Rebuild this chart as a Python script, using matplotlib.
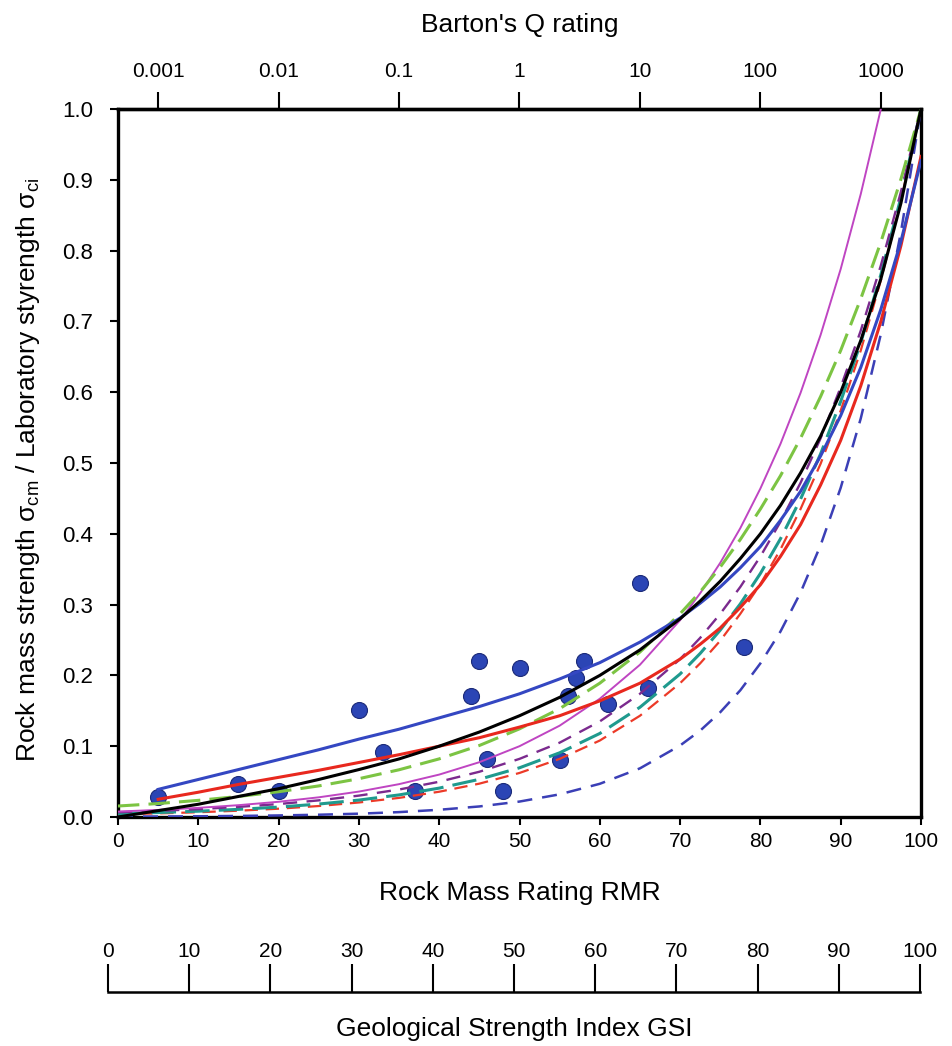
import numpy as np
import matplotlib.pyplot as plt

plt.rcParams['font.family'] = ['Liberation Sans', 'DejaVu Sans']
plt.rcParams['mathtext.fontset'] = 'custom'
plt.rcParams['mathtext.rm'] = 'Liberation Sans'

rmr = [0, 5, 10, 15, 20, 25, 30, 35, 40, 45, 50, 55, 60, 65, 70,
       72.5, 75, 77.5, 80, 82.5, 85, 87.5, 90, 92.5, 95, 97.5, 100]
rmr_q = rmr[:25]      # magenta curve stops at 1.0 near RMR 95
rmr_gsi = rmr[1:]     # GSI based curves start at 5

black = [0, 0.009, 0.018, 0.029, 0.040, 0.053, 0.067, 0.082, 0.100, 0.120, 0.143, 0.169, 0.200, 0.236,
         0.280, 0.305, 0.333, 0.365, 0.400, 0.440, 0.486, 0.538, 0.600, 0.673, 0.760, 0.867, 1.000]
green = [0.0155, 0.019, 0.0235, 0.029, 0.0357, 0.0439, 0.0541, 0.0667, 0.0821, 0.101, 0.1245, 0.153, 0.189,
         0.233, 0.287, 0.318, 0.353, 0.392, 0.435, 0.482, 0.535, 0.594, 0.659, 0.732, 0.812, 0.901, 1.0]
purple = [0.0067, 0.0087, 0.0111, 0.0143, 0.0183, 0.0235, 0.0302, 0.0388, 0.0498, 0.0639, 0.0821, 0.105, 0.135,
          0.174, 0.223, 0.253, 0.287, 0.325, 0.368, 0.417, 0.472, 0.535, 0.607, 0.687, 0.779, 0.883, 1.0]
teal = [0.0048, 0.0063, 0.0082, 0.0108, 0.014, 0.0183, 0.0239, 0.0312, 0.0408, 0.0532, 0.0695, 0.0907, 0.118,
        0.155, 0.202, 0.231, 0.264, 0.301, 0.344, 0.393, 0.449, 0.513, 0.587, 0.670, 0.766, 0.875, 1.0]
red_dash = [0.0039, 0.0051, 0.0067, 0.0089, 0.0117, 0.0155, 0.0205, 0.027, 0.0357, 0.0471, 0.0622, 0.0821, 0.108,
            0.143, 0.189, 0.217, 0.249, 0.287, 0.329, 0.378, 0.435, 0.499, 0.574, 0.659, 0.758, 0.870, 1.0]
navy = [0.0005, 0.0007, 0.001, 0.0015, 0.0022, 0.0032, 0.0047, 0.0069, 0.0102, 0.0149, 0.0218, 0.032, 0.0469,
        0.0687, 0.101, 0.122, 0.148, 0.179, 0.217, 0.262, 0.317, 0.384, 0.465, 0.563, 0.682, 0.826, 1.0]
magenta = [0.0077, 0.010, 0.0129, 0.0167, 0.0215, 0.0278, 0.0359, 0.0464, 0.0599, 0.0774, 0.100, 0.129, 0.167,
           0.215, 0.278, 0.316, 0.359, 0.408, 0.464, 0.527, 0.599, 0.681, 0.774, 0.880, 1.0]
blue = [0.039, 0.053, 0.067, 0.081, 0.095, 0.110, 0.124, 0.140, 0.156, 0.174, 0.195, 0.218, 0.247,
        0.281, 0.302, 0.325, 0.352, 0.382, 0.419, 0.460, 0.510, 0.567, 0.635, 0.717, 0.813, 0.927]
red = [0.025, 0.035, 0.046, 0.056, 0.066, 0.077, 0.088, 0.100, 0.112, 0.127, 0.143, 0.164, 0.189,
       0.223, 0.244, 0.267, 0.296, 0.328, 0.368, 0.413, 0.469, 0.532, 0.609, 0.700, 0.807, 0.933]

# measured points
rmr_obs = [5, 15, 20, 30, 33, 37, 44, 45, 46, 48, 50, 55, 56, 57, 58, 61, 65, 66, 78]
ratio_obs = [0.028, 0.047, 0.037, 0.151, 0.092, 0.037, 0.171, 0.22, 0.082, 0.037, 0.21, 0.08,
             0.171, 0.196, 0.22, 0.16, 0.33, 0.182, 0.24]

q_ticks = [0.001, 0.01, 0.1, 1, 10, 100, 1000]
q_labels = ['0.001', '0.01', '0.1', '1', '10', '100', '1000']
rmr_ticks = list(range(0, 101, 10))
y_ticks = [0.0, 0.1, 0.2, 0.3, 0.4, 0.5, 0.6, 0.7, 0.8, 0.9, 1.0]

fig = plt.figure(figsize=(9.52, 10.46), dpi=100)
ax = fig.add_axes([118 / 952, 1 - 817 / 1046, 803 / 952, 708 / 1046])

ax.plot(rmr_obs, ratio_obs, 'o', ms=11.5, color='#2b45b5', mec='#1b2a78', mew=0.8, zorder=2)

ax.plot(rmr, navy, color='#3b3fb6', lw=1.8, dashes=(6, 4), zorder=3)
ax.plot(rmr, red_dash, color='#ec3a28', lw=1.6, dashes=(6, 3.5), zorder=3)
ax.plot(rmr, teal, color='#1f9a8e', lw=2.2, dashes=(8, 3), zorder=3)
ax.plot(rmr, purple, color='#7b2a8e', lw=1.7, dashes=(6, 4), zorder=3)
ax.plot(rmr_q, magenta, color='#bf45c2', lw=1.4, zorder=3)
ax.plot(rmr, green, color='#7cc443', lw=2.2, dashes=(7, 3), zorder=3)
ax.plot(rmr_gsi, red, color='#e8281e', lw=2.2, zorder=4)
ax.plot(rmr_gsi, blue, color='#3447c2', lw=2.2, zorder=4)
ax.plot(rmr, black, color='black', lw=2.2, zorder=4)

ax.set_xlim(0, 100)
ax.set_ylim(0, 1)
ax.set_xticks(rmr_ticks)
ax.set_yticks(y_ticks)
ax.set_yticklabels(['%.1f' % v for v in y_ticks])
ax.tick_params(axis='both', direction='out', length=6, width=1.5, labelsize=15)
ax.tick_params(axis='x', pad=5)
ax.tick_params(axis='y', pad=12, labelsize=16)
for sp in ax.spines.values():
    sp.set_linewidth(2.4)

ax.set_xlabel('Rock Mass Rating RMR', fontsize=19)
ax.xaxis.label.set_va('center')
ax.xaxis.set_label_coords(0.5, (817 - 893) / 708)
ax.set_ylabel(r'Rock mass strength σ$_{\rm cm}$ / Laboratory styrength σ$_{\rm ci}$', fontsize=19)
ax.yaxis.label.set_va('center')
ax.yaxis.set_label_coords((28 - 118) / 803, 0.49)

# Barton's Q on top
def rmr_to_q(x):
    return 10 ** ((np.asarray(x, dtype=float) - 50) / 15)

def q_to_rmr(q):
    return 15 * np.log10(np.maximum(np.asarray(q, dtype=float), 1e-12)) + 50

secax = ax.secondary_xaxis('top', functions=(rmr_to_q, q_to_rmr))
secax.set_xticks(q_ticks)
secax.set_xticklabels(q_labels)
secax.xaxis.set_minor_locator(plt.NullLocator())
secax.tick_params(direction='out', length=12, width=1.5, labelsize=15, pad=8)
secax.spines['top'].set_linewidth(2.4)
ax.text(0.5, (817 - 25) / 708, "Barton's Q rating", fontsize=19,
        ha='center', va='center', transform=ax.transAxes)

# GSI scale below
gax = fig.add_axes([108 / 952, 1 - 992 / 1046 - 0.01, 812 / 952, 0.01])
gax.set_xlim(0, 100)
gax.set_yticks([])
for side in ['left', 'right', 'bottom']:
    gax.spines[side].set_visible(False)
gax.spines['top'].set_linewidth(1.8)
gax.xaxis.tick_top()
gax.set_xticks(rmr_ticks)
gax.tick_params(axis='x', direction='out', length=20, width=1.5, labelsize=15, pad=2)
gax.patch.set_visible(False)
gax.set_xlabel('Geological Strength Index GSI', fontsize=19)
gax.xaxis.set_label_position('bottom')
gax.xaxis.label.set_va('center')
gax.xaxis.set_label_coords(0.5, -2.5)

fig.savefig('out.png', dpi=100)
